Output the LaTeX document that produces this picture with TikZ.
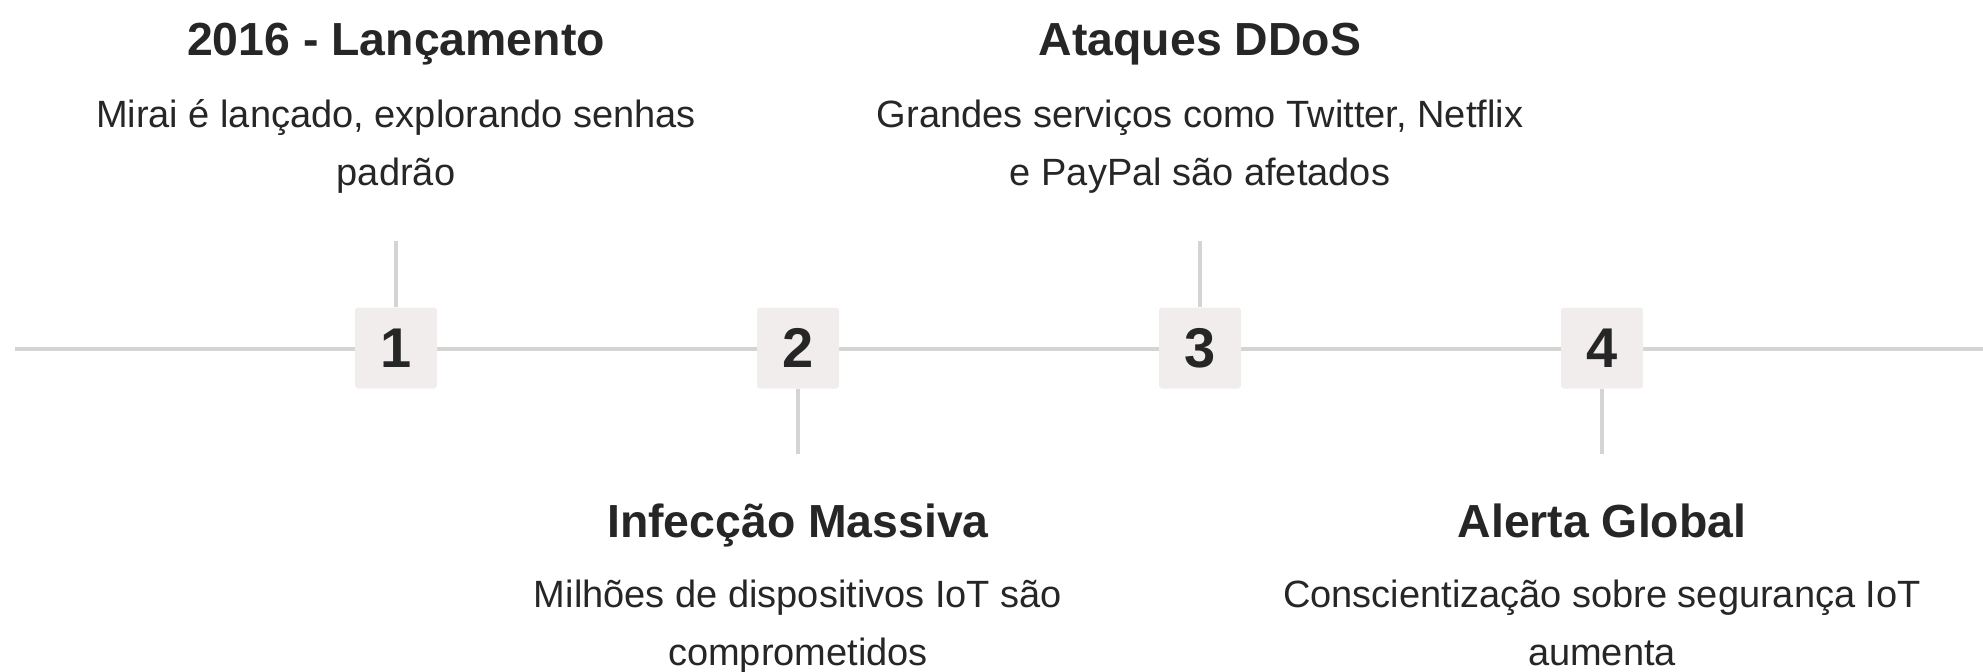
\documentclass[tikz,border=0pt]{standalone}
\usepackage{fontspec}
\setmainfont{Liberation Sans}
\usetikzlibrary{positioning}

\definecolor{railgray}{RGB}{214,211,211}
\definecolor{stepfill}{RGB}{240,237,236}
\definecolor{ink}{RGB}{38,38,38}

\begin{document}
\begin{tikzpicture}[
  x=0.5pt, y=-0.5pt,
  rail/.style={draw=railgray, line width=1.6pt},
  stepbox/.style={fill=stepfill, rounded corners=1.5pt, minimum width=41pt, minimum height=40.5pt,
                  inner sep=0pt, font=\fontsize{28}{28}\selectfont\bfseries, text=ink},
  evtitle/.style={font=\fontsize{23.2}{28}\selectfont\bfseries, text=ink, anchor=base},
  evtext/.style={font=\fontsize{19}{29}\selectfont, text=ink, align=center, anchor=base}
]
\useasboundingbox (0,0) rectangle (1983,671);

% timeline rail behind the numbered steps
\coordinate (railstart) at (15,349);
\coordinate (railend)   at (1983,349);
\draw[rail] (railstart) -- (railend);

\foreach \i in {1,...,4}
  \node[stepbox] (step\i) at ({396+402*(\i-1)},348) {\i};

% stems: odd steps point up, even steps point down
\coordinate (up1)   at (396,241);
\coordinate (up3)   at (1200,241);
\coordinate (down2) at (798,454);
\coordinate (down4) at (1602,454);
\draw[rail] (step1.north) -- (up1);
\draw[rail] (step3.north) -- (up3);
\draw[rail] (step2.south) -- (down2);
\draw[rail] (step4.south) -- (down4);

% two-line texts sit on the baseline of their last line
\node[evtitle] (title1) at (396,55)   {2016 - Lançamento};
\node[evtext]  (text1)  at (396,185)  {Mirai é lançado, explorando senhas\\padrão};
\node[evtitle] (title3) at (1200,55)  {Ataques DDoS};
\node[evtext]  (text3)  at (1200,185) {Grandes serviços como Twitter, Netflix\\e PayPal são afetados};

\node[evtitle] (title2) at (798,537)  {Infecção Massiva};
\node[evtext]  (text2)  at (798,665)  {Milhões de dispositivos IoT são\\comprometidos};
\node[evtitle] (title4) at (1602,537) {Alerta Global};
\node[evtext]  (text4)  at (1602,665) {Conscientização sobre segurança IoT\\aumenta};

\end{tikzpicture}
\end{document}
